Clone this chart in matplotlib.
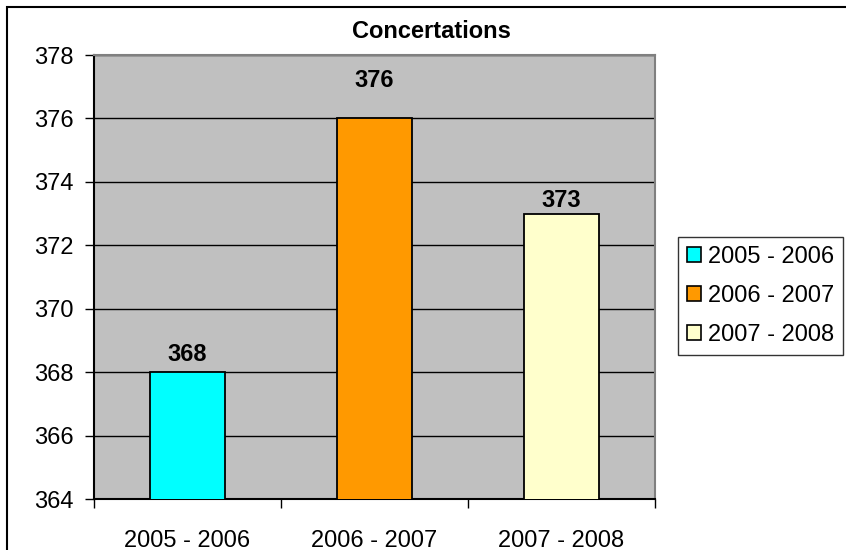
import matplotlib.pyplot as plt
from matplotlib.patches import Rectangle

plt.rcParams['font.family'] = ['Liberation Sans', 'DejaVu Sans']

# data
periods = ['2005 - 2006', '2006 - 2007', '2007 - 2008']
values = [368, 376, 373]
colors = ['#00FFFF', '#FF9900', '#FFFFCC']
y_ticks = [364, 366, 368, 370, 372, 374, 376, 378]

# label offsets above the bars (points), as placed in the original
label_offsets = [4.5, 19, 1]

fig = plt.figure(figsize=(8.46, 5.5), dpi=100)
ax = fig.add_axes([94 / 846, 1 - 499 / 550, 561 / 846, 444 / 550])

ax.set_facecolor('#C0C0C0')
x = list(range(len(periods)))
bars = ax.bar(x, values, width=0.405, color=colors, edgecolor='black',
              linewidth=1.3, zorder=3)

ax.set_ylim(364, 378)
ax.set_xlim(-0.5, 2.5)
ax.set_yticks(y_ticks)
ax.set_yticklabels([str(t) for t in y_ticks], fontsize=17)
ax.yaxis.grid(True, color='black', linewidth=1.0, zorder=1)
ax.tick_params(axis='y', length=6.5, width=1, pad=8)

ax.set_xticks(x)
ax.set_xticklabels(periods, fontsize=17)
ax.set_xticks([-0.5, 0.5, 1.5, 2.5], minor=True)
ax.tick_params(axis='x', which='major', length=0, pad=22)
ax.tick_params(axis='x', which='minor', length=6.5, width=1)

for side in ['top', 'right']:
    ax.spines[side].set_color('#808080')
    ax.spines[side].set_linewidth(1.5)
for side in ['left', 'bottom']:
    ax.spines[side].set_color('black')
    ax.spines[side].set_linewidth(1.5)

for bar, v, off in zip(bars, values, label_offsets):
    ax.annotate(str(v), (bar.get_x() + bar.get_width() / 2, v),
                xytext=(0, off), textcoords='offset points',
                ha='center', va='bottom', fontsize=17, fontweight='bold',
                zorder=4)

fig.text(431 / 846, 1 - 31 / 550, 'Concertations', ha='center', va='center',
         fontsize=17, fontweight='bold')

handles = [Rectangle((0, 0), 1, 1, facecolor=c, edgecolor='black', linewidth=1.2)
           for c in colors]
leg = fig.legend(handles, periods, loc='upper left',
                 bbox_to_anchor=(678 / 846, 1 - 237 / 550),
                 fontsize=17, frameon=True, fancybox=False,
                 handlelength=0.6, handleheight=0.6, handletextpad=0.3,
                 labelspacing=0.72, borderpad=0.38, borderaxespad=0)
leg.get_frame().set_edgecolor('black')
leg.get_frame().set_linewidth(1.0)

# outer chart border (cut off on the right and bottom)
fig.patches.append(Rectangle((7 / 846, -0.1), 1.2, 1 - 7 / 550 + 0.1,
                             transform=fig.transFigure, fill=False,
                             edgecolor='black', linewidth=1.5))

fig.savefig('out.png', dpi=100)
